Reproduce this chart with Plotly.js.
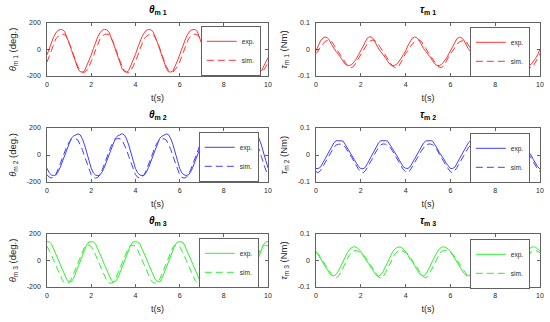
<!DOCTYPE html>
<html>
<head>
<meta charset="utf-8">
<script src="https://cdn.plot.ly/plotly-3.0.1.min.js"></script>
<style>html,body{margin:0;padding:0;background:#fff}#chart{width:550px;height:322px}</style>
</head>
<body>
<div id="chart"></div>
<script>
// time grid 0..10 s, step 0.1 s
var tSec = Array.from({length: 101}, function (_, i) { return +(i * 0.1).toFixed(1); });

// theta m1 (deg.)
var th1Exp = [
-40,10,55,95,125,145,150,150,135,95,50,0,-50,-100,-145,-168,-170,-160,-125,-85,
-42,8,56,96,127,146,152,150,133,93,48,-2,-52,-102,-146,-167,-171,-158,-122,-82,
-38,12,57,97,126,146,151,149,134,96,51,1,-49,-99,-144,-169,-170,-161,-126,-86,
-41,9,54,94,124,145,150,151,136,94,49,-1,-51,-101,-147,-168,-172,-159,-124,-84,
-40,11,55,95,125,144,149,150,135,95,50,0,-50,-100,-145,-167,-170,-162,-127,-88,
-62];
var th1Sim = [
-95,-50,0,45,80,100,112,115,113,88,55,10,-40,-90,-130,-158,-172,-172,-155,-128,
-96,-52,-2,44,79,101,113,116,112,87,54,8,-42,-91,-131,-159,-171,-173,-156,-127,
-94,-49,1,46,81,100,111,115,114,89,56,11,-39,-89,-129,-157,-172,-171,-154,-129,
-95,-51,0,44,80,99,112,116,113,88,55,9,-41,-90,-131,-158,-173,-172,-155,-128,
-97,-50,-1,45,79,100,113,115,112,87,54,10,-40,-91,-130,-159,-172,-172,-156,-130,
-100];
// tau m1 (Nm)
var tau1Exp = [
-0.005,0.015,0.032,0.043,0.047,0.045,0.035,0.018,0.003,-0.008,-0.018,-0.03,-0.043,-0.055,-0.06,-0.06,-0.057,-0.048,-0.035,-0.02,
-0.004,0.016,0.033,0.044,0.048,0.046,0.034,0.017,0.002,-0.009,-0.019,-0.031,-0.044,-0.056,-0.061,-0.06,-0.056,-0.047,-0.034,-0.019,
-0.006,0.014,0.031,0.043,0.047,0.045,0.036,0.019,0.004,-0.007,-0.017,-0.029,-0.042,-0.054,-0.06,-0.061,-0.057,-0.048,-0.036,-0.021,
-0.005,0.015,0.032,0.042,0.046,0.044,0.035,0.018,0.003,-0.008,-0.018,-0.03,-0.043,-0.055,-0.059,-0.06,-0.058,-0.049,-0.035,-0.02,
-0.005,0.016,0.032,0.043,0.047,0.045,0.035,0.017,0.002,-0.009,-0.018,-0.031,-0.044,-0.055,-0.06,-0.06,-0.057,-0.047,-0.034,-0.019,
0.002];
var tau1Sim = [
-0.015,-0.005,0.01,0.022,0.03,0.034,0.035,0.03,0.018,0.005,-0.01,-0.022,-0.035,-0.048,-0.06,-0.067,-0.068,-0.062,-0.048,-0.032,
-0.016,-0.004,0.011,0.023,0.031,0.035,0.035,0.029,0.017,0.004,-0.011,-0.023,-0.036,-0.049,-0.061,-0.067,-0.069,-0.063,-0.049,-0.031,
-0.014,-0.005,0.01,0.022,0.03,0.034,0.036,0.031,0.019,0.005,-0.01,-0.021,-0.034,-0.047,-0.06,-0.066,-0.068,-0.062,-0.047,-0.032,
-0.015,-0.006,0.009,0.021,0.029,0.033,0.035,0.03,0.018,0.006,-0.009,-0.022,-0.035,-0.048,-0.059,-0.067,-0.068,-0.061,-0.048,-0.033,
-0.015,-0.005,0.01,0.022,0.03,0.034,0.035,0.03,0.018,0.005,-0.01,-0.022,-0.035,-0.048,-0.06,-0.067,-0.069,-0.063,-0.049,-0.033,
-0.016];
// theta m2 (deg.)
var th2Exp = [
-98,-132,-148,-152,-148,-125,-90,-45,0,45,90,125,140,150,157,150,120,75,25,-40,
-97,-133,-149,-153,-147,-124,-89,-44,1,46,91,126,141,151,158,149,119,74,24,-41,
-99,-131,-148,-152,-149,-126,-91,-46,-1,44,89,124,139,150,156,150,121,76,26,-39,
-98,-132,-147,-151,-148,-125,-90,-45,0,45,90,125,140,149,157,151,120,75,25,-40,
-96,-133,-149,-153,-148,-124,-89,-44,0,46,90,125,141,150,157,150,120,74,24,-41,
-95];
var th2Sim = [
-145,-165,-170,-165,-145,-110,-65,-20,25,65,95,115,122,120,110,80,40,-10,-60,-110,
-146,-166,-171,-166,-144,-109,-64,-19,26,66,96,116,123,121,109,79,39,-11,-61,-111,
-144,-165,-170,-164,-146,-111,-66,-21,24,64,94,114,121,119,111,81,41,-9,-59,-109,
-145,-166,-171,-165,-145,-110,-65,-20,25,65,95,115,122,120,110,80,40,-10,-60,-110,
-146,-165,-170,-166,-145,-110,-64,-19,25,66,95,115,122,120,110,79,39,-11,-61,-112,
-140];
// tau m2 (Nm)
var tau2Exp = [
-0.05,-0.05,-0.045,-0.03,-0.015,0.0,0.015,0.032,0.045,0.053,0.053,0.053,0.052,0.04,0.025,0.01,0.0,-0.015,-0.03,-0.043,
-0.05,-0.051,-0.046,-0.031,-0.016,0.001,0.016,0.033,0.046,0.053,0.054,0.053,0.051,0.039,0.024,0.011,-0.001,-0.016,-0.031,-0.044,
-0.049,-0.05,-0.044,-0.029,-0.014,0.0,0.015,0.031,0.044,0.052,0.053,0.053,0.052,0.041,0.026,0.01,0.0,-0.014,-0.029,-0.042,
-0.05,-0.05,-0.045,-0.03,-0.015,0.001,0.016,0.032,0.045,0.053,0.053,0.054,0.052,0.04,0.025,0.009,-0.001,-0.015,-0.03,-0.043,
-0.051,-0.05,-0.045,-0.031,-0.015,0.0,0.015,0.032,0.045,0.052,0.053,0.053,0.051,0.04,0.025,0.01,0.0,-0.016,-0.031,-0.044,
-0.052];
var tau2Sim = [
-0.062,-0.065,-0.058,-0.045,-0.03,-0.015,0.0,0.015,0.028,0.037,0.04,0.04,0.037,0.03,0.018,0.005,-0.01,-0.025,-0.04,-0.053,
-0.063,-0.066,-0.059,-0.046,-0.031,-0.016,0.001,0.016,0.029,0.038,0.041,0.04,0.036,0.029,0.017,0.004,-0.011,-0.026,-0.041,-0.054,
-0.061,-0.065,-0.057,-0.044,-0.029,-0.014,0.0,0.015,0.028,0.037,0.04,0.041,0.038,0.031,0.019,0.006,-0.009,-0.024,-0.039,-0.052,
-0.062,-0.066,-0.058,-0.045,-0.03,-0.015,-0.001,0.014,0.027,0.036,0.04,0.04,0.037,0.03,0.018,0.005,-0.01,-0.025,-0.04,-0.053,
-0.063,-0.065,-0.058,-0.045,-0.03,-0.015,0.0,0.015,0.028,0.037,0.04,0.04,0.037,0.03,0.018,0.005,-0.01,-0.025,-0.041,-0.054,
-0.062];
// theta m3 (deg.)
var th3Exp = [
142,141,125,90,50,10,-30,-70,-110,-145,-160,-160,-135,-95,-55,-10,35,80,120,140,
143,141,124,89,49,9,-31,-71,-111,-146,-161,-160,-134,-94,-54,-9,36,81,121,141,
142,140,126,91,51,11,-29,-69,-109,-144,-159,-161,-136,-96,-56,-11,34,79,119,140,
142,141,125,90,50,10,-30,-70,-110,-145,-160,-160,-135,-95,-55,-10,35,80,120,141,
143,140,124,89,49,9,-31,-71,-111,-146,-161,-160,-134,-95,-55,-10,35,80,121,141,
142];
var th3Sim = [
108,80,42,2,-38,-78,-118,-150,-168,-172,-165,-140,-100,-58,-15,28,70,102,115,116,
107,79,41,1,-39,-79,-119,-151,-169,-172,-164,-139,-99,-57,-14,29,71,103,116,115,
109,81,43,3,-37,-77,-117,-149,-167,-171,-165,-141,-101,-59,-16,27,69,101,115,116,
108,80,42,2,-38,-78,-118,-150,-168,-172,-165,-140,-100,-58,-15,28,70,102,116,116,
107,79,41,1,-39,-79,-119,-151,-169,-173,-165,-140,-100,-58,-15,28,70,102,115,115,
108];
// tau m3 (Nm)
var tau3Exp = [
0.035,0.02,0.005,-0.005,-0.02,-0.035,-0.048,-0.056,-0.058,-0.052,-0.04,-0.022,-0.003,0.015,0.03,0.042,0.049,0.052,0.05,0.044,
0.034,0.019,0.006,-0.006,-0.021,-0.036,-0.049,-0.057,-0.059,-0.053,-0.041,-0.023,-0.004,0.014,0.029,0.041,0.048,0.051,0.05,0.043,
0.033,0.021,0.004,-0.004,-0.019,-0.034,-0.047,-0.055,-0.058,-0.052,-0.039,-0.021,-0.002,0.016,0.031,0.043,0.05,0.052,0.049,0.044,
0.035,0.02,0.005,-0.005,-0.02,-0.035,-0.048,-0.056,-0.058,-0.052,-0.04,-0.022,-0.003,0.015,0.03,0.042,0.049,0.051,0.05,0.045,
0.034,0.02,0.006,-0.006,-0.021,-0.035,-0.048,-0.057,-0.058,-0.053,-0.04,-0.022,-0.003,0.015,0.03,0.042,0.049,0.052,0.05,0.044,
0.036];
var tau3Sim = [
0.03,0.025,0.012,0.0,-0.012,-0.025,-0.04,-0.053,-0.062,-0.066,-0.06,-0.045,-0.027,-0.01,0.008,0.022,0.032,0.037,0.038,0.035,
0.03,0.024,0.011,-0.001,-0.013,-0.026,-0.041,-0.054,-0.063,-0.066,-0.061,-0.046,-0.028,-0.011,0.007,0.021,0.031,0.037,0.038,0.034,
0.029,0.025,0.012,0.001,-0.011,-0.024,-0.039,-0.052,-0.062,-0.065,-0.06,-0.044,-0.026,-0.009,0.009,0.023,0.033,0.038,0.038,0.035,
0.03,0.025,0.012,0.0,-0.012,-0.025,-0.04,-0.053,-0.062,-0.066,-0.06,-0.045,-0.027,-0.01,0.008,0.022,0.032,0.037,0.039,0.035,
0.031,0.024,0.011,-0.001,-0.012,-0.025,-0.04,-0.053,-0.062,-0.066,-0.061,-0.045,-0.027,-0.01,0.008,0.022,0.032,0.037,0.038,0.034,
0.03];

var seriesNames = ['exp.', 'sim.'];
var panelTitles = ['<b><i>θ</i><sub>m 1</sub></b>', '<b><i>τ</i><sub>m 1</sub></b>',
                   '<b><i>θ</i><sub>m 2</sub></b>', '<b><i>τ</i><sub>m 2</sub></b>',
                   '<b><i>θ</i><sub>m 3</sub></b>', '<b><i>τ</i><sub>m 3</sub></b>'];
var yTitles = ['<i>θ</i><sub>m 1</sub> (deg.)', '<i>τ</i><sub>m 1</sub> (Nm)',
               '<i>θ</i><sub>m 2</sub> (deg.)', '<i>τ</i><sub>m 2</sub> (Nm)',
               '<i>θ</i><sub>m 3</sub> (deg.)', '<i>τ</i><sub>m 3</sub> (Nm)'];
var xTickVals = [0, 2, 4, 6, 8, 10];
var thTickVals = [-200, 0, 200], thTickText = ['-200', '0', '200'];
var tauTickVals = [-0.1, 0, 0.1], tauTickText = ['-0.1', '0', '0.1'];

var panels = [
  {exp: th1Exp, sim: th1Sim, color: '#ff3535', kind: 'th'},
  {exp: tau1Exp, sim: tau1Sim, color: '#ff3535', kind: 'tau'},
  {exp: th2Exp, sim: th2Sim, color: '#3f3fff', kind: 'th'},
  {exp: tau2Exp, sim: tau2Sim, color: '#3f3fff', kind: 'tau'},
  {exp: th3Exp, sim: th3Sim, color: '#2ff02f', kind: 'th'},
  {exp: tau3Exp, sim: tau3Sim, color: '#2ff02f', kind: 'tau'}
];

var W = 550, H = 322;
var colX = [[47, 268], [316, 540]];
var rowY = [[23, 76], [128, 182], [234, 287]];
var titleY = [10, 115, 221];
var legendBox = [[261, 26], [530, 27], [259, 132], [530, 133], [259, 238], [530, 239]];

var axLine = '#3a3a3a';
var font = 'Liberation Sans, Arial, Helvetica, sans-serif';
var traces = [];
var layout = {
  width: W, height: H,
  margin: {l: 0, r: 0, t: 0, b: 0},
  paper_bgcolor: '#ffffff', plot_bgcolor: '#ffffff',
  font: {family: font, color: '#262626', size: 7},
  showlegend: true,
  annotations: []
};

panels.forEach(function (p, i) {
  var n = i + 1;
  var sfx = n === 1 ? '' : String(n);
  var col = i % 2, row = Math.floor(i / 2);
  var legName = n === 1 ? 'legend' : 'legend' + n;
  traces.push({x: tSec, y: p.exp, type: 'scatter', mode: 'lines', name: seriesNames[0],
    xaxis: 'x' + sfx, yaxis: 'y' + sfx, legend: legName,
    line: {color: p.color, width: 1}});
  traces.push({x: tSec, y: p.sim, type: 'scatter', mode: 'lines', name: seriesNames[1],
    xaxis: 'x' + sfx, yaxis: 'y' + sfx, legend: legName,
    line: {color: p.color, width: 1, dash: '7px,4px'}});

  var common = {showline: true, mirror: 'ticks', linecolor: axLine, linewidth: 0.8,
    ticks: 'inside', ticklen: 3, tickwidth: 0.8, tickcolor: axLine,
    showgrid: false, zeroline: false, fixedrange: true,
    tickfont: {size: 7, color: '#262626', family: font}};
  layout['xaxis' + sfx] = Object.assign({}, common, {
    domain: [colX[col][0] / W, colX[col][1] / W],
    anchor: 'y' + sfx, range: [0, 10], tickvals: xTickVals, ticklabelstandoff: 2,
    title: {text: 't(s)', font: {size: 9, color: '#262626', family: font}, standoff: 7}
  });
  layout['yaxis' + sfx] = Object.assign({}, common, {
    domain: [1 - rowY[row][1] / H, 1 - rowY[row][0] / H],
    anchor: 'x' + sfx,
    range: p.kind === 'th' ? [-200, 200] : [-0.1, 0.1],
    tickvals: p.kind === 'th' ? thTickVals : tauTickVals,
    ticktext: p.kind === 'th' ? thTickText : tauTickText,
    ticklabelstandoff: 4,
    title: {text: yTitles[i], font: {size: 9.5, color: '#262626', family: font}, standoff: 8}
  });
  layout[legName] = {
    x: legendBox[i][0] / W, y: 1 - legendBox[i][1] / H, xanchor: 'right', yanchor: 'top',
    bgcolor: '#ffffff', bordercolor: axLine, borderwidth: 0.8,
    font: {size: 6.5, color: '#262626', family: font}, itemwidth: 30
  };
  layout.annotations.push({
    text: panelTitles[i], xref: 'paper', yref: 'paper',
    x: (colX[col][0] + colX[col][1]) / 2 / W, y: 1 - titleY[row] / H,
    xanchor: 'center', yanchor: 'middle', showarrow: false,
    font: {size: 10, color: '#000000', family: font}
  });
});

Plotly.newPlot('chart', traces, layout, {displayModeBar: false, staticPlot: true});
</script>
</body>
</html>
